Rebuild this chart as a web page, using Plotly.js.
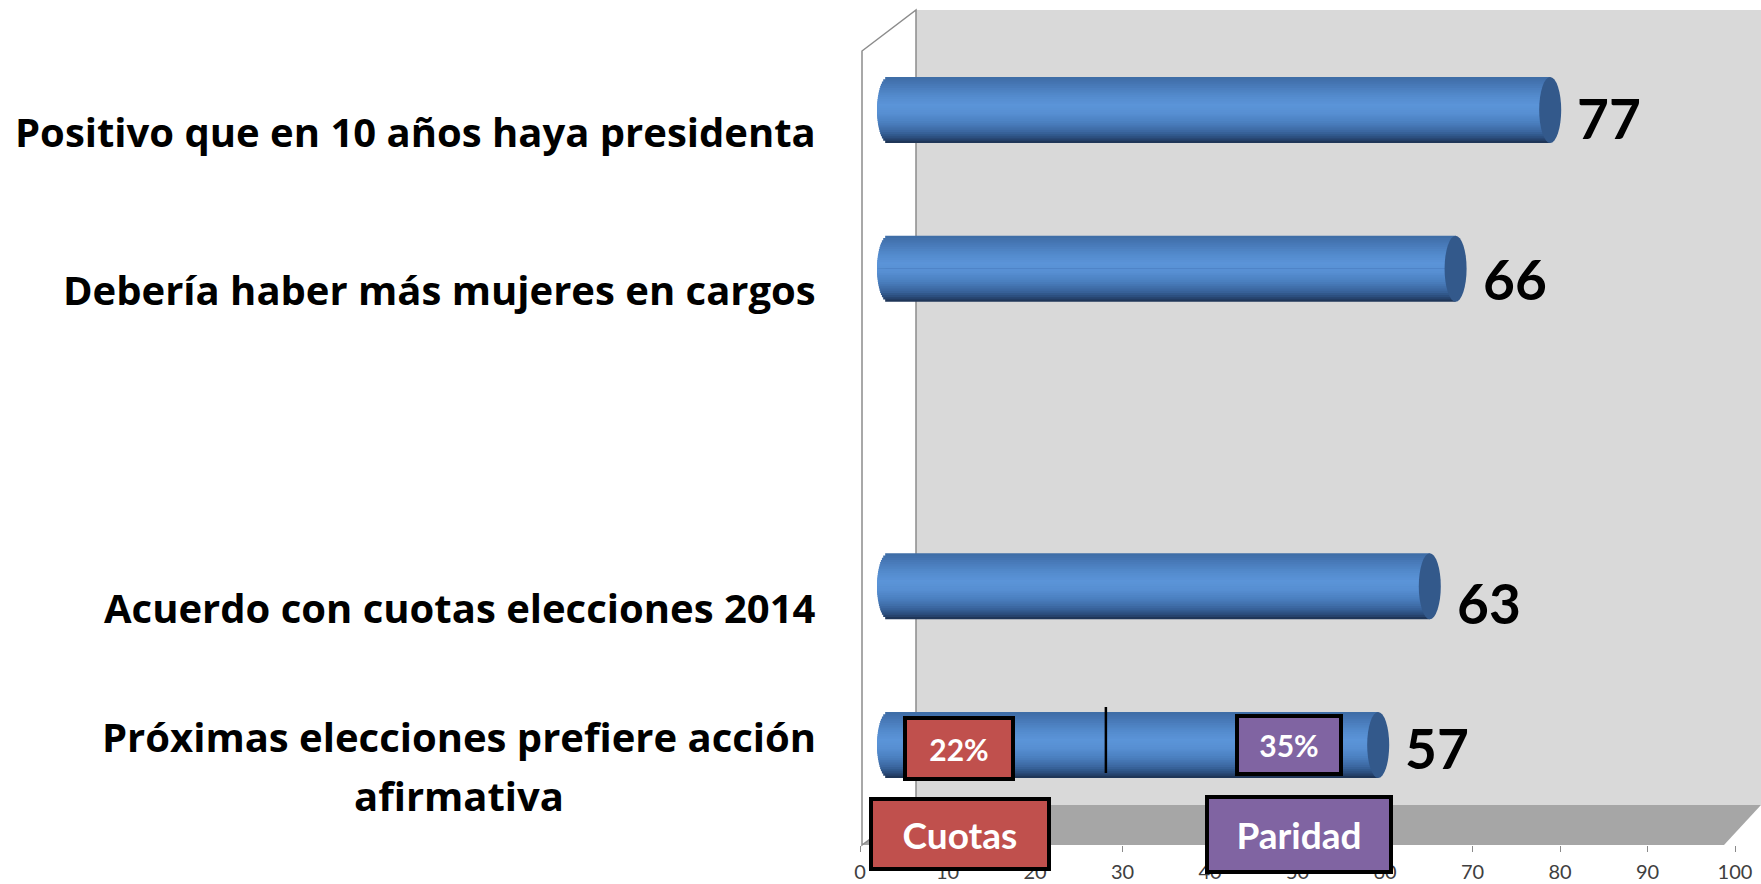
<!DOCTYPE html>
<html>
<head>
<meta charset="utf-8">
<script src="https://cdn.plot.ly/plotly-3.0.1.min.js"></script>
<style>
html,body{margin:0;padding:0;background:#ffffff;}
#chart{width:1761px;height:884px;}
</style>
</head>
<body>
<div id="chart"></div>
<script>
// ---------------- data ----------------
const categories = [
  "Positivo que en 10 años haya presidenta",
  "Debería haber más mujeres en cargos",
  "Acuerdo con cuotas elecciones 2014",
  "Próximas elecciones prefiere acción<br>afirmativa"
];
const values = [77, 66, 63, 57];
const breakdownLabels = ["Cuotas", "Paridad"];
const breakdownValues = [22, 35];
const xTickValues = [0, 10, 20, 30, 40, 50, 60, 70, 80, 90, 100];

// ---------------- layout helpers (pixel geometry of the 3D frame) ----------------
const FIG_W = 1761, FIG_H = 884;
const PL = 860, PR = 1735, PT = 10, PB = 845;
const pxX = p => (p - PL) / (PR - PL);
const pxY = p => (PB - p) / (PB - PT);

const spacer = " ";
const catOrder = [categories[3], categories[2], spacer, categories[1], categories[0]];
const catIndex = c => catOrder.indexOf(c);

// cylinder geometry
const BAR_H = 0.415;      // thickness in category units
const CAP_RX = 1.28;      // ellipse x-radius in bar-axis units
const CAP_RX_PX = 11;
const N_BANDS = 30;

const shadeStops = [
  [0.00, [0x3E, 0x6C, 0xA4]],
  [0.12, [0x47, 0x78, 0xB6]],
  [0.28, [0x53, 0x8A, 0xCC]],
  [0.42, [0x5B, 0x94, 0xD8]],
  [0.55, [0x57, 0x8F, 0xD2]],
  [0.70, [0x4A, 0x7E, 0xBE]],
  [0.83, [0x3A, 0x66, 0x9F]],
  [0.93, [0x2A, 0x4B, 0x7A]],
  [1.00, [0x1B, 0x2F, 0x4E]]
];
function shadeAt(t) {
  for (let k = 0; k < shadeStops.length - 1; k++) {
    const [t0, c0] = shadeStops[k], [t1, c1] = shadeStops[k + 1];
    if (t >= t0 && t <= t1) {
      const f = (t - t0) / (t1 - t0);
      const c = c0.map((v, j) => Math.round(v + (c1[j] - v) * f));
      return `rgb(${c[0]},${c[1]},${c[2]})`;
    }
  }
  return 'rgb(27,47,78)';
}

const traces = [];
const bandH = BAR_H / N_BANDS;
const half = N_BANDS / 2;
function bandTrace(i, offset, width) {
  const tc = (i + 0.5) / N_BANDS;
  const u = (tc - 0.5) * 2;
  const base = -CAP_RX * Math.sqrt(Math.max(0, 1 - u * u));
  return {
    type: 'bar', orientation: 'h',
    xaxis: 'x2', yaxis: 'y',
    y: categories,
    x: values.map(v => v - base),
    base: base,
    offset: offset, width: width,
    marker: {color: shadeAt(tc), line: {width: 0}},
    hoverinfo: 'skip', showlegend: false
  };
}
// upper half: outermost first, each reaching a little below the middle
for (let i = 0; i < half; i++) {
  const top = BAR_H / 2 - i * bandH;
  traces.push(bandTrace(i, -bandH, top + bandH));
}
// lower half: outermost first, each reaching the middle
for (let j = N_BANDS - 1; j >= half; j--) {
  const bottom = BAR_H / 2 - (j + 1) * bandH;
  traces.push(bandTrace(j, bottom, -bottom));
}

// ---------------- shapes ----------------
function pathFromPx(pts) {
  return 'M ' + pts.map(p => `${pxX(p[0]).toFixed(5)},${pxY(p[1]).toFixed(5)}`).join(' L ') + ' Z';
}
const shapes = [
  // back wall
  {type: 'path', xref: 'paper', yref: 'paper', layer: 'below',
   path: pathFromPx([[916, 10], [1761, 10], [1761, 805], [916, 805]]),
   fillcolor: '#D9D9D9', line: {width: 0}},
  // floor
  {type: 'path', xref: 'paper', yref: 'paper', layer: 'below',
   path: pathFromPx([[862, 845], [1724, 845], [1761, 805], [916, 805]]),
   fillcolor: '#A6A6A6', line: {width: 0}},
  // side wall
  {type: 'path', xref: 'paper', yref: 'paper', layer: 'below',
   path: pathFromPx([[862, 51], [916, 10], [916, 805], [862, 845]]),
   fillcolor: '#FFFFFF', line: {color: '#8C8C8C', width: 1.5}}
];
// cylinder end caps
values.forEach((v, i) => {
  const yi = catIndex(categories[i]);
  shapes.push({type: 'circle', xref: 'x2', yref: 'y', layer: 'above',
    x0: v - CAP_RX, x1: v + CAP_RX, y0: yi - BAR_H / 2, y1: yi + BAR_H / 2,
    fillcolor: '#33598B', line: {width: 0}});
});
// divider inside the last bar
shapes.push({type: 'line', xref: 'x', yref: 'paper', layer: 'above',
  x0: 28.1, x1: 28.1, y0: pxY(707), y1: pxY(773),
  line: {color: '#000000', width: 2.5}});

// ---------------- annotations ----------------
const FONT = 'Lato, "Open Sans", sans-serif';
const LABEL_FONT = '"Open Sans", Lato, sans-serif';
const LABEL_SIZE = 40;
const annotations = [];
// category labels
categories.forEach(c => {
  const multi = c.indexOf('<br>') >= 0;
  const txt = multi ? c.split('<br>').map(s => `<span style="font-size:${LABEL_SIZE}px">${s}</span>`).join('<br>') : c;
  annotations.push({
    xref: 'paper', x: pxX(818), xanchor: 'right',
    yref: 'y', y: c, yanchor: 'middle', yshift: -21,
    text: txt, showarrow: false, align: 'center',
    font: {family: LABEL_FONT, size: multi ? 45 : LABEL_SIZE, color: '#000000', weight: 'bold'}
  });
});
// value labels
const valueLabelDy = [-8, -10, -17, -3];
values.forEach((v, i) => {
  annotations.push({
    xref: 'x2', x: v, xanchor: 'left', xshift: CAP_RX_PX + 14,
    yref: 'y', y: categories[i], yanchor: 'middle', yshift: valueLabelDy[i],
    text: String(v), showarrow: false,
    font: {family: FONT, size: 55, color: '#000000', weight: 'bold'}
  });
});
// breakdown boxes on last bar
const boxColors = ['#C0504D', '#8064A2'];
const boxX = [11.3, 49.0];
const legendX = [11.4, 50.2];
breakdownValues.forEach((v, i) => {
  annotations.push({
    xref: 'x', x: boxX[i], xanchor: 'center',
    yref: 'y', y: categories[3], yanchor: 'middle', yshift: i === 0 ? -3.5 : 0,
    text: v + '%', showarrow: false,
    width: i === 0 ? 104 : 100, height: i === 0 ? 57 : 54,
    bgcolor: boxColors[i], bordercolor: '#000000', borderwidth: 4, borderpad: 0,
    font: {family: FONT, size: 30, color: '#FFFFFF', weight: 'bold'}
  });
});
breakdownLabels.forEach((lab, i) => {
  annotations.push({
    xref: 'x', x: legendX[i], xanchor: 'center',
    yref: 'paper', y: pxY(834), yanchor: 'middle',
    text: lab, showarrow: false,
    width: i === 0 ? 174 : 180, height: i === 0 ? 66 : 71,
    bgcolor: boxColors[i], bordercolor: '#000000', borderwidth: 4, borderpad: 0,
    font: {family: FONT, size: 37, color: '#FFFFFF', weight: 'bold'}
  });
});

const layout = {
  width: FIG_W, height: FIG_H,
  margin: {l: PL, r: FIG_W - PR, t: PT, b: FIG_H - PB, pad: 0},
  paper_bgcolor: '#FFFFFF', plot_bgcolor: 'rgba(0,0,0,0)',
  barmode: 'overlay',
  showlegend: false,
  xaxis: {
    range: [0, 100], tickvals: xTickValues, ticktext: xTickValues.map(String),
    ticks: 'outside', ticklen: 6, tickwidth: 1, tickcolor: '#8A8A8A',
    ticklabelstandoff: 3,
    showgrid: false, zeroline: false, showline: false,
    tickfont: {family: FONT, size: 20, color: '#404040'}, fixedrange: true
  },
  xaxis2: {overlaying: 'x', anchor: 'y', range: [-3.256, 98.49], visible: false, fixedrange: true},
  yaxis: {
    type: 'category', categoryorder: 'array', categoryarray: catOrder,
    range: [-0.63, 4.63], showticklabels: false, showgrid: false,
    zeroline: false, showline: false, ticks: '', fixedrange: true
  },
  shapes: shapes,
  annotations: annotations
};

Plotly.newPlot('chart', traces, layout, {displayModeBar: false, staticPlot: true});
</script>
</body>
</html>
